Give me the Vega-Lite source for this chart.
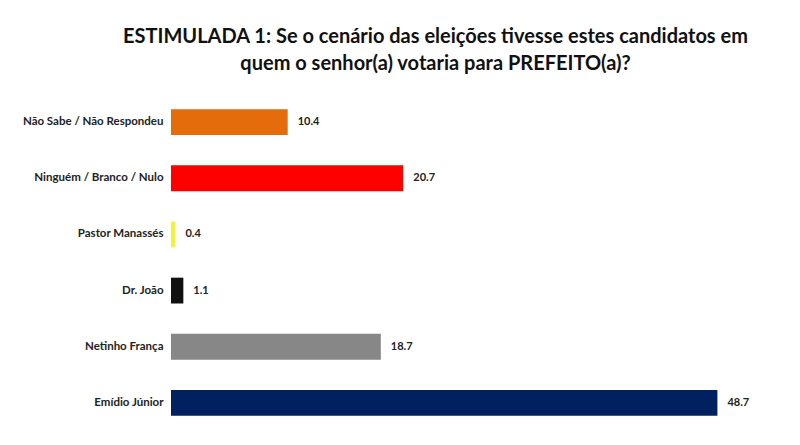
{
  "$schema": "https://vega.github.io/schema/vega-lite/v6.json",
  "autosize": "none",
  "width": 561,
  "height": 337,
  "padding": {"left": 171, "top": 94, "right": 68, "bottom": 14},
  "background": "white",
  "title": {
    "text": ["ESTIMULADA 1: Se o cenário das eleições tivesse estes candidatos em", "quem o senhor(a) votaria para PREFEITO(a)?"],
    "font": "Lato",
    "fontSize": 20,
    "fontWeight": "bold",
    "color": "#111111",
    "anchor": "middle",
    "dx": -16,
    "offset": 20,
    "lineHeight": 27
  },
  "data": {
    "values": [
      {"candidato": "Não Sabe / Não Respondeu", "valor": 10.4, "cor": "#E46C0A"},
      {"candidato": "Ninguém / Branco / Nulo", "valor": 20.7, "cor": "#FF0000"},
      {"candidato": "Pastor Manassés", "valor": 0.4, "cor": "#F2F23C"},
      {"candidato": "Dr. João", "valor": 1.1, "cor": "#111111"},
      {"candidato": "Netinho França", "valor": 18.7, "cor": "#878787"},
      {"candidato": "Emídio Júnior", "valor": 48.7, "cor": "#002060"}
    ]
  },
  "encoding": {
    "y": {
      "field": "candidato",
      "type": "nominal",
      "sort": null,
      "scale": {"paddingInner": 0.54, "paddingOuter": 0.27},
      "axis": {
        "title": null,
        "domain": false,
        "ticks": false,
        "labelPadding": 8,
        "labelFont": "Lato",
        "labelFontSize": 11.5,
        "labelFontWeight": "bold",
        "labelColor": "#222222",
        "labelLimit": 300
      }
    },
    "x": {
      "field": "valor",
      "type": "quantitative",
      "scale": {"domain": [0, 50], "nice": false},
      "axis": null
    }
  },
  "layer": [
    {
      "mark": {"type": "bar"},
      "encoding": {
        "color": {"field": "cor", "type": "nominal", "scale": null}
      }
    },
    {
      "mark": {"type": "text", "align": "left", "dx": 10, "font": "Lato", "fontSize": 11, "fontWeight": "bold", "color": "#222222"},
      "encoding": {
        "text": {"field": "valor", "type": "quantitative", "format": ".1f"}
      }
    }
  ],
  "config": {"view": {"stroke": null}}
}
